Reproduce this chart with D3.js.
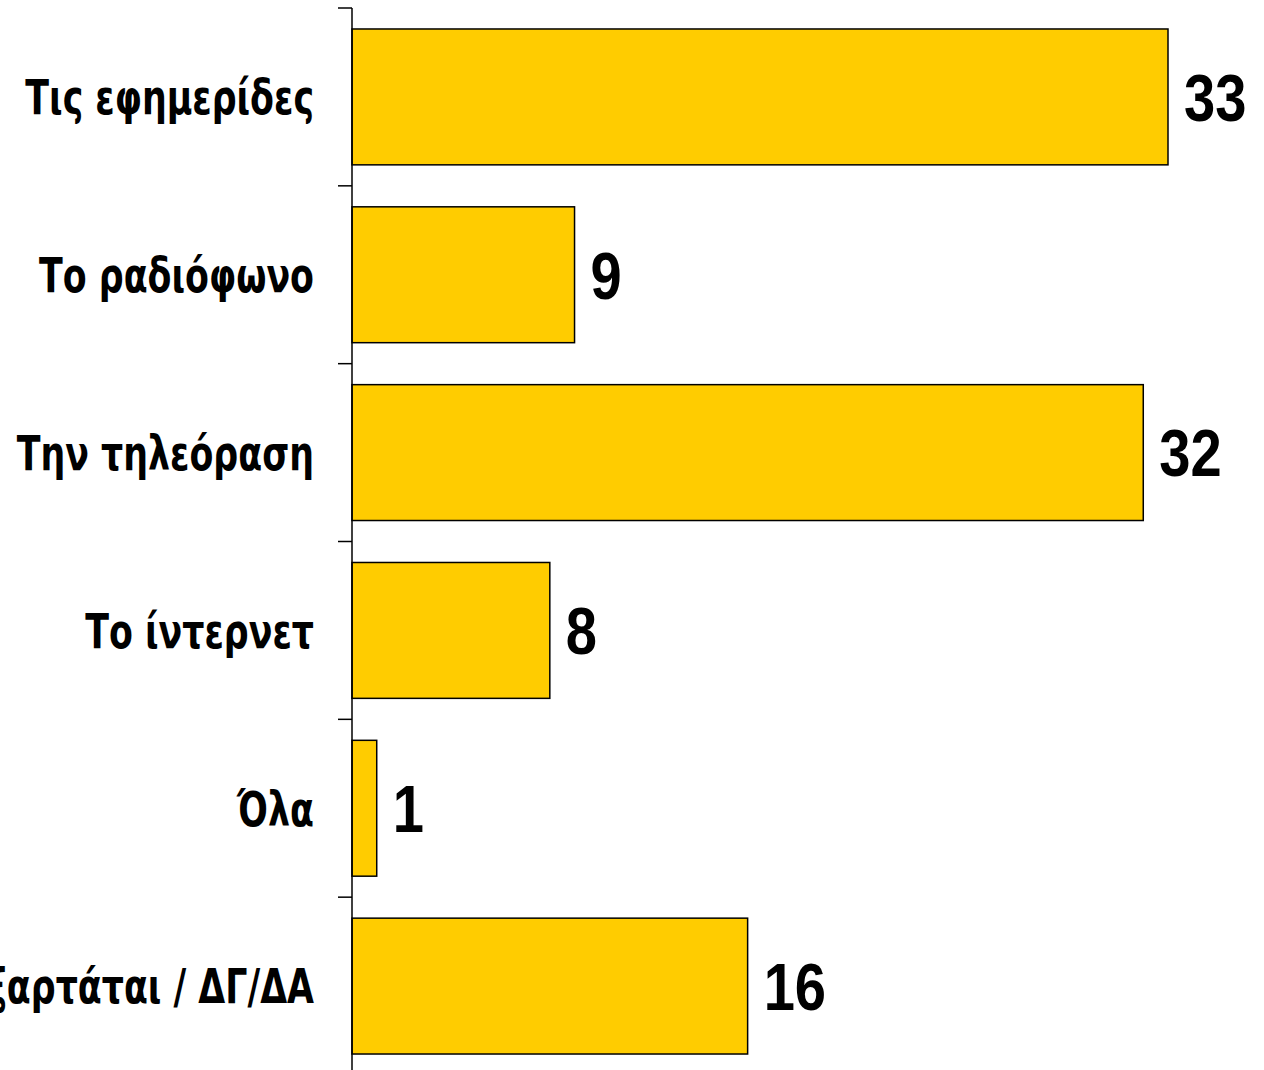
<!DOCTYPE html>
<html>
<head>
<meta charset="utf-8">
<script src="https://cdn.jsdelivr.net/npm/d3@7"></script>
<style>
  body { margin: 0; background: #fff; }
  svg { display: block; }
</style>
</head>
<body>
<svg id="chart" width="1264" height="1070"></svg>
<script>
"use strict";

// Categories and values, top to bottom
const categories = ["Τις εφημερίδες", "Το ραδιόφωνο", "Την τηλεόραση", "Το ίντερνετ", "Όλα", "Εξαρτάται / ΔΓ/ΔΑ"];
const values = [33, 9, 32, 8, 1, 16];

const svg = d3.select("#chart");

const axisX = 352;

// narrow look: no condensed font installed, so squeeze horizontally
const labelSqueeze = 0.725;
const valueSqueeze = 0.85;

const x = d3.scaleLinear()
    .domain([0, 33])
    .range([axisX, 1168]);

const y = d3.scaleBand()
    .domain(categories)
    .range([8, 1075])
    .paddingInner(0.236)
    .paddingOuter(0.118);

const data = categories.map((c, i) => ({name: c, value: values[i]}));

// Bars
svg.selectAll(".bar")
    .data(data)
  .enter().append("rect")
    .attr("class", "bar")
    .attr("x", x(0))
    .attr("y", d => y(d.name))
    .attr("width", d => x(d.value) - x(0))
    .attr("height", y.bandwidth())
    .style("fill", "#ffcc00")
    .style("stroke", "#000")
    .style("stroke-width", 1.5);

// Axis line and ticks at band boundaries
svg.append("line")
    .attr("x1", axisX).attr("x2", axisX)
    .attr("y1", 8).attr("y2", 1075)
    .style("stroke", "#000")
    .style("stroke-width", 1.5);

const half = y.step() * y.paddingInner() / 2;
svg.selectAll(".tick")
    .data(categories)
  .enter().append("line")
    .attr("class", "tick")
    .attr("x1", axisX - 14).attr("x2", axisX)
    .attr("y1", d => y(d) - half)
    .attr("y2", d => y(d) - half)
    .style("stroke", "#000")
    .style("stroke-width", 1.5);

// Category labels
svg.selectAll(".label")
    .data(data)
  .enter().append("text")
    .attr("class", "label")
    .attr("transform", d => "translate(314," + (y(d.name) + y.bandwidth() / 2) + ") scale(" + labelSqueeze + ",1)")
    .attr("dy", "0.36em")
    .attr("text-anchor", "end")
    .style("font-family", "'DejaVu Sans', sans-serif")
    .style("font-weight", "bold")
    .style("font-size", "48px")
    .text(d => d.name);

// Value labels
svg.selectAll(".value")
    .data(data)
  .enter().append("text")
    .attr("class", "value")
    .attr("transform", d => "translate(" + (x(d.value) + 16) + "," + (y(d.name) + y.bandwidth() / 2) + ") scale(" + valueSqueeze + ",1)")
    .attr("dy", "0.36em")
    .style("font-family", "'Liberation Sans', Arial, sans-serif")
    .style("font-weight", "bold")
    .style("font-size", "66px")
    .text(d => d.value);
</script>
</body>
</html>
